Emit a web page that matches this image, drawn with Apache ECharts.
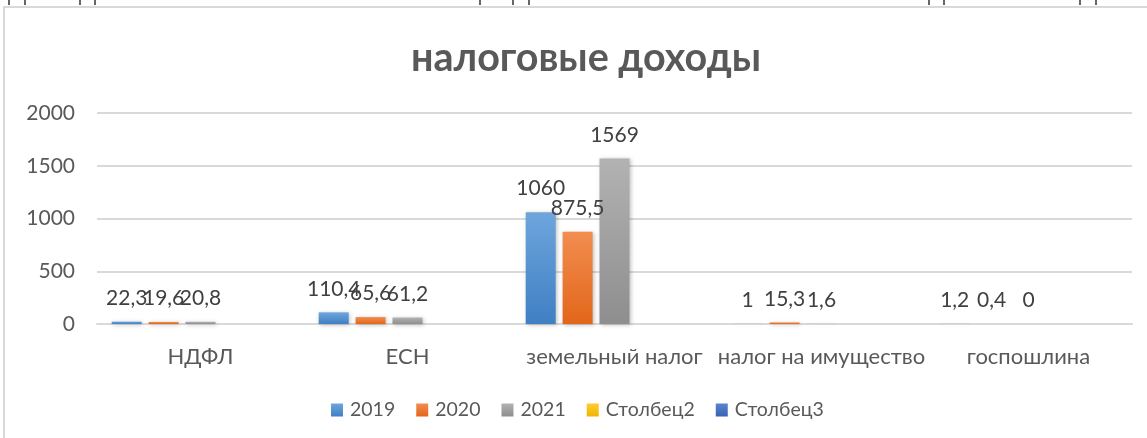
<!DOCTYPE html>
<html>
<head>
<meta charset="utf-8">
<script src="https://cdn.jsdelivr.net/npm/echarts@6/dist/echarts.min.js"></script>
<style>
html,body{margin:0;padding:0;background:#fff;}
#chart{width:1147px;height:438px;}
</style>
</head>
<body>
<div id="chart"></div>
<script>
const categories = ['НДФЛ', 'ЕСН', 'земельный налог', 'налог на имущество', 'госпошлина'];
const seriesNames = ['2019', '2020', '2021', 'Столбец2', 'Столбец3'];
const values2019 = [22.3, 110.4, 1060, 1, 1.2];
const values2020 = [19.6, 65.6, 875.5, 15.3, 0.4];
const values2021 = [20.8, 61.2, 1569, 1.6, 0];
const valuesCol2 = [null, null, null, null, null];
const valuesCol3 = [null, null, null, null, null];
const yTicks = [0, 500, 1000, 1500, 2000];
const titleText = 'налоговые доходы';

const FONT = "Lato, 'Open Sans', sans-serif";
function grad(top, bottom) {
  return new echarts.graphic.LinearGradient(0, 0, 0, 1, [
    {offset: 0, color: top}, {offset: 1, color: bottom}
  ]);
}
const colors = [
  grad('#6ea6dd', '#3f7fc3'),
  grad('#f28d50', '#e2661a'),
  grad('#b2b2b2', '#8e8e8e'),
  grad('#ffcb33', '#f0b400'),
  grad('#5a84cf', '#3763b4')
];
const allValues = [values2019, values2020, values2021, valuesCol2, valuesCol3];

const series = seriesNames.map((name, i) => ({
  name: name,
  type: 'bar',
  data: allValues[i],
  barWidth: 30,
  barGap: '23%',
  itemStyle: {
    color: colors[i],
    shadowBlur: 4,
    shadowColor: 'rgba(0,0,0,0.25)',
    shadowOffsetX: 1,
    shadowOffsetY: 1
  },
  label: {
    show: true,
    position: 'top',
    distance: 13,
    color: '#404040',
    fontSize: 21,
    fontFamily: FONT,
    formatter: p => (p.value === null || p.value === undefined) ? '' : String(p.value).replace('.', ',')
  }
}));

const ticksMarks = [9, 25, 80, 95, 480, 513, 529, 929, 944, 1080, 1096];
const graphics = [
  {type: 'rect', shape: {x: 4, y: 7, width: 1200, height: 500}, style: {fill: 'none', stroke: '#d9d9d9', lineWidth: 2}, silent: true}
].concat(ticksMarks.map(x => ({
  type: 'line', shape: {x1: x, y1: 0, x2: x, y2: 5}, style: {stroke: '#333', lineWidth: 1.5}, silent: true
})));

const chart = echarts.init(document.getElementById('chart'), null, {renderer: 'canvas'});
chart.setOption({
  animation: false,
  backgroundColor: '#fff',
  title: {
    text: titleText,
    left: 406,
    top: 33,
    textStyle: {fontFamily: FONT, fontSize: 39.5, fontWeight: 'bold', color: '#595959'}
  },
  legend: {
    data: seriesNames,
    left: 326,
    top: 395,
    itemWidth: 12,
    itemHeight: 13,
    itemGap: 21,
    icon: 'rect',
    textStyle: {fontFamily: FONT, fontSize: 19.5, color: '#595959', padding: [0, 0, 0, 2]}
  },
  grid: {left: 97, right: 15, top: 113, bottom: 114},
  xAxis: {
    type: 'category',
    data: categories,
    axisLine: {lineStyle: {color: '#d9d9d9', width: 2}},
    axisTick: {show: false},
    axisLabel: {fontFamily: FONT, fontSize: 22, color: '#595959', margin: 22, interval: 0}
  },
  yAxis: {
    type: 'value',
    min: yTicks[0],
    max: yTicks[yTicks.length - 1],
    interval: yTicks[1] - yTicks[0],
    axisLine: {show: false},
    axisTick: {show: false},
    splitLine: {lineStyle: {color: '#d9d9d9', width: 2}},
    axisLabel: {fontFamily: FONT, fontSize: 21, color: '#595959', margin: 22, formatter: v => String(v)}
  },
  graphic: graphics,
  series: series
});
</script>
</body>
</html>
